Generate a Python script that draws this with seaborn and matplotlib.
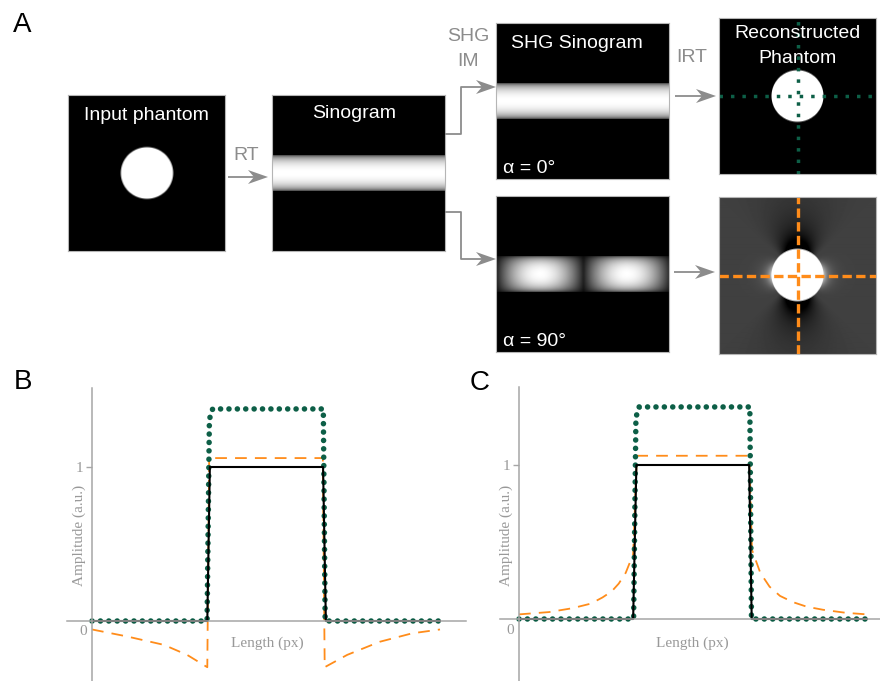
import numpy as np
import matplotlib
matplotlib.use("Agg")
import matplotlib.pyplot as plt
import seaborn as sns
from matplotlib.patches import Polygon

# ---------------------------------------------------------------- data
# line profiles through the reconstructed phantom (length in px)
len_b_black = [0, 49.7, 50.8, 99.6, 100.8, 150]
amp_b_black = [0, 0, 1.0, 1.0, 0, 0]

len_b_green = [0, 49.6, 50.6, 52.0, 99.7, 100.5, 150]
amp_b_green = [0, 0, 1.31, 1.377, 1.377, 0, 0]

len_b_orange = [0, 15, 31, 41, 49.7, 50.5, 99.5, 100.3, 110, 124, 138, 150]
amp_b_orange = [-0.055, -0.10, -0.155, -0.22, -0.30, 1.058, 1.058, -0.30,
                -0.22, -0.135, -0.08, -0.055]

len_c_black = [0, 49.2, 50.6, 99.2, 100.3, 150]
amp_c_black = [0, 0, 1.0, 1.0, 0, 0]

len_c_green = [0, 49.4, 50.4, 51.8, 99.5, 100.2, 150]
amp_c_green = [0, 0, 1.31, 1.377, 1.377, 0, 0]

len_c_orange = [0, 13, 23, 31, 36, 40, 43, 46, 49.2, 50.8, 99.3, 100.4,
                104, 108, 112.5, 118, 124, 131, 141, 150]
amp_c_orange = [0.03, 0.045, 0.07, 0.10, 0.14, 0.18, 0.23, 0.30, 0.42, 1.06,
                1.06, 0.45, 0.30, 0.21, 0.15, 0.11, 0.08, 0.06, 0.04, 0.03]

# phantom model used for the illustrations of panel A
phantom_size = 157
disk_radius = 0.331          # fraction of the half width
sino_rows, sino_cols = 156, 173

GREEN = "#0d5f47"
ORANGE = "#ff8c1a"
GRAY = "#8c8c8c"
AXGRAY = "#a6a6a6"

# ---------------------------------------------------------------- style
sns.set_theme(style="white")
plt.rcParams["font.family"] = ["Liberation Sans", "DejaVu Sans"]
SERIF = ["Liberation Serif", "DejaVu Serif"]

W, H = 880, 681
fig = plt.figure(figsize=(W / 100, H / 100), dpi=100)


def px_axes(x0, y0, x1, y1, **kw):
    return fig.add_axes([x0 / W, 1 - y1 / H, (x1 - x0) / W, (y1 - y0) / H], **kw)


# ---------------------------------------------------------------- images
c = (np.arange(phantom_size) + 0.5) / phantom_size * 2 - 1
X, Y = np.meshgrid(c, -c)
rho = np.hypot(X, Y)
half_px = phantom_size / 2
phantom = np.clip((disk_radius - rho) * half_px + 0.5, 0, 1)

s = np.linspace(-np.sqrt(2), np.sqrt(2), sino_rows)
theta = np.linspace(0, 180, sino_cols, endpoint=False)
band = np.sqrt(np.clip(1 - (s / disk_radius) ** 2, 0, None)) ** 0.8
sinogram = band[:, None] * np.ones(sino_cols)[None, :]
modulation = 0.12 + 0.88 * np.abs(np.sin(2 * np.radians(theta))) ** 0.9
sinogram_90 = band[:, None] * modulation[None, :]

safe = np.maximum(rho, 1e-9)
q = (X ** 2 - Y ** 2) / safe ** 2
ratio = disk_radius / safe
bright = 0.55 * np.clip(q, 0, None) ** 2 * ratio ** 6
dark = 0.5 * np.clip(-q, 0, None) ** 1.3 * ratio ** 2.3
recon_90 = np.clip(0.25 + bright - dark, 0, 1)
recon_90 = recon_90 * (1 - phantom) + phantom


def show(img, box):
    ax = px_axes(*box)
    ax.imshow(img, cmap="gray", vmin=0, vmax=1, aspect="auto",
              interpolation="bilinear")
    ax.set_xticks([])
    ax.set_yticks([])
    for sp in ax.spines.values():
        sp.set_color("#b5b5b5")
        sp.set_linewidth(0.8)
    return ax


show(phantom, (68, 95, 225, 251))
show(sinogram, (272, 95, 445, 251))
show(sinogram, (496, 23, 669, 179))
show(sinogram_90, (496, 196, 669, 352))
ax_r0 = show(phantom, (719, 18, 876, 174))
ax_r90 = show(recon_90, (719, 197, 876, 354))

mid = (phantom_size - 1) / 2
for fn in (ax_r0.axhline, ax_r0.axvline):
    fn(mid, color=GREEN, lw=2.5, linestyle=(0, (1, 2.3)))
for fn in (ax_r90.axhline, ax_r90.axvline):
    fn(mid, color=ORANGE, lw=2.4, linestyle=(0, (2.8, 1.3)))

# ---------------------------------------------------------------- profiles


def profile_axes(box, x_zero, y_zero):
    x0, y0, x1, y1 = box
    ax = px_axes(x0, y0, x1, y1)
    ax.set_xlim((x0 - x_zero) / 2.32, (x1 - x_zero) / 2.32)
    ax.set_ylim((y_zero - y1) / 154, (y_zero - y0) / 154)
    ax.patch.set_alpha(0)
    for side in ("top", "right"):
        ax.spines[side].set_visible(False)
    ax.spines["left"].set_position(("data", 0))
    ax.spines["bottom"].set_position(("data", 0))
    for side in ("left", "bottom"):
        ax.spines[side].set_color(AXGRAY)
        ax.spines[side].set_linewidth(1.1)
    ax.set_xticks([])
    ax.set_yticks([1])
    ax.set_yticklabels(["1"], family=SERIF, fontsize=11, color="#999999")
    ax.tick_params(axis="y", left=True, length=4.5, width=1.0, color=AXGRAY, pad=2)
    return ax


def draw_profiles(ax, lx, ly, gx, gy, ox, oy):
    sns.lineplot(x=ox, y=oy, ax=ax, color=ORANGE, linewidth=1.3, sort=False,
                 estimator=None)
    ax.lines[-1].set_dashes([6.5, 4.5])
    sns.lineplot(x=gx, y=gy, ax=ax, color=GREEN, linewidth=4.0, sort=False,
                 estimator=None)
    ax.lines[-1].set_linestyle((0, (0.01, 1.5)))
    ax.lines[-1].set_dash_capstyle("round")
    sns.lineplot(x=lx, y=ly, ax=ax, color="black", linewidth=1.5, sort=False,
                 estimator=None)
    ax.set_xlabel("")
    ax.set_ylabel("")


axB = profile_axes((67, 388, 466, 681), 92, 621)
draw_profiles(axB, len_b_black, amp_b_black, len_b_green, amp_b_green,
              len_b_orange, amp_b_orange)
axC = profile_axes((500, 387, 880, 681), 519, 619)
draw_profiles(axC, len_c_black, amp_c_black, len_c_green, amp_c_green,
              len_c_orange, amp_c_orange)

lab = dict(family=SERIF, fontsize=11, color="#999999", ha="center", va="center")
axB.text(-3.9, -0.071, "0", **lab)
axC.text(-3.9, -0.075, "0", **lab)
axB.text(-5.6, 0.558, "Amplitude (a.u.)", rotation=90, **lab)
axC.text(-5.6, 0.545, "Amplitude (a.u.)", rotation=90, **lab)
axB.text(75.4, -0.143, "Length (px)", **lab)
axC.text(74.6, -0.156, "Length (px)", **lab)

# ---------------------------------------------------------------- overlay
ov = fig.add_axes([0, 0, 1, 1], zorder=10)
ov.set_xlim(0, W)
ov.set_ylim(H, 0)
ov.axis("off")
ov.patch.set_alpha(0)


def arrow(x0, y, x1, pts=None):
    L, w, notch = 20, 7, 6
    if pts is None:
        pts = [(x0, y)]
    xs = [p[0] for p in pts] + [x1 - L + notch + 1]
    ys = [p[1] for p in pts] + [y]
    ov.plot(xs, ys, color=GRAY, lw=1.3, solid_capstyle="butt")
    ov.add_patch(Polygon([(x1, y), (x1 - L, y - w), (x1 - L + notch, y),
                          (x1 - L, y + w)], closed=True, color=GRAY, lw=0))


arrow(228, 177, 268)
arrow(445, 87, 496, pts=[(445, 134), (461, 134), (461, 87)])
arrow(445, 259, 496, pts=[(445, 212), (461, 212), (461, 259)])
arrow(675, 96, 716)
arrow(674, 272, 715)

white = dict(color="white", fontsize=14, ha="center", va="baseline")
ov.text(146, 120, "Input phantom", **white)
ov.text(354, 118, "Sinogram", **white)
ov.text(577, 48, "SHG Sinogram", **white)
ov.text(798, 38, "Reconstructed", **white)
ov.text(798, 63, "Phantom", **white)
ov.text(503, 173, "α = 0°", color="white", fontsize=14, ha="left", va="baseline")
ov.text(503, 346, "α = 90°", color="white", fontsize=14, ha="left", va="baseline")

gray = dict(color=GRAY, fontsize=14, ha="center", va="baseline")
ov.text(246, 160, "RT", **gray)
ov.text(468, 41, "SHG", **gray)
ov.text(468, 66, "IM", **gray)
ov.text(692, 62, "IRT", **gray)

big = dict(color="black", fontsize=20, ha="left", va="baseline")
ov.text(13, 32, "A", **big)
ov.text(14, 389, "B", **big)
ov.text(470, 390, "C", **big)

fig.savefig("out.png", dpi=100)
